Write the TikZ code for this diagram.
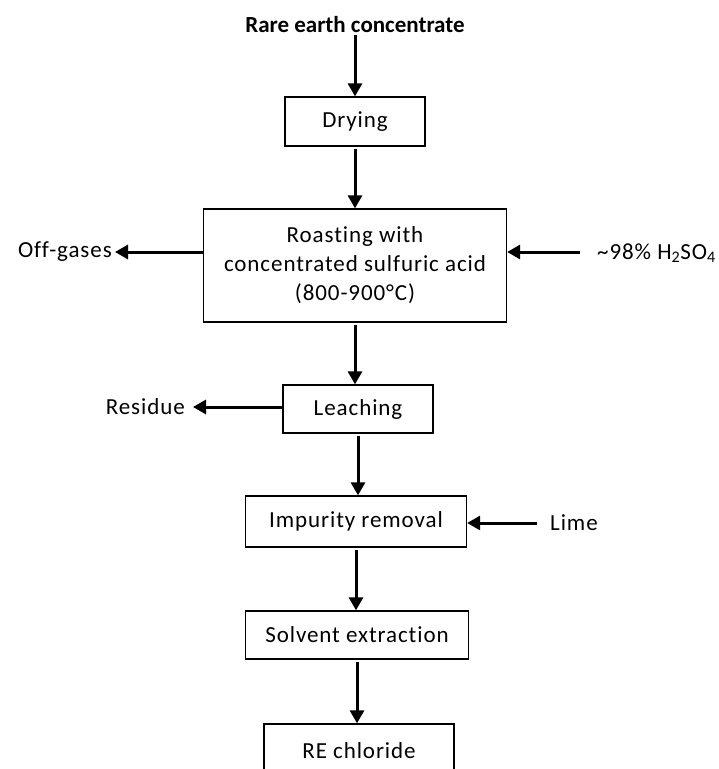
\documentclass[tikz,border=0pt]{standalone}
\usepackage{fontspec}
\setmainfont{Carlito}[Ligatures=CommonOff]
\usetikzlibrary{arrows.meta}
\tikzset{
  stepbox/.style={draw,line width=1.3pt,minimum height=#1,inner sep=0pt,align=center},
  flow/.style={line width=3pt,-{Triangle[length=13pt,width=14pt]}},
  side/.style={inner sep=0pt}
}
\begin{document}
\begin{tikzpicture}[x=1pt,y=-1pt,font=\fontsize{23}{29}\selectfont\addfontfeature{LetterSpace=4}]
\clip(0,0)rectangle(719,769);
\node[side,font=\fontsize{23}{29}\selectfont\bfseries](title)at(355,25){Rare earth concentrate};
\node[stepbox=49pt,minimum width=140pt](dry)at(355,121.5){Drying};
\node[stepbox=113pt,minimum width=303pt](roast)at(355,265.5){Roasting with\\concentrated sulfuric acid\\(800-900°C)};
\node[stepbox=48pt,minimum width=150pt](leach)at(358,409){Leaching};
\node[stepbox=51pt,minimum width=221pt](imp)at(356,521.5){Impurity removal};
\node[stepbox=48pt,minimum width=223pt](solv)at(357,635){Solvent extraction};
\node[stepbox=54pt,minimum width=190pt](recl)at(359,751){RE chloride};
\foreach \a/\b in {title/dry,dry/roast,roast/leach,leach/imp,imp/solv,solv/recl}
  \draw[flow]([yshift=-2pt]\a.south)--(\a.south|-\b.north);
\node[side,anchor=east](offg)at(112,252){Off-gases};
\draw[flow](roast.west|-offg.east)--([xshift=3pt]offg.east);
\node[side,anchor=base west](acid)at(597,259){\textasciitilde 98\% H\textsubscript{2}SO\textsubscript{4}};
\coordinate(acidin)at(580,252);
\draw[flow](acidin)--(roast.east|-acidin);
\node[side,anchor=east](resid)at(185,407){Residue};
\draw[flow](leach.west|-resid.east)--([xshift=8pt]resid.east);
\node[side,anchor=west](lime)at(550,523){Lime};
\draw[flow]([xshift=-13pt]lime.west)--(imp.east|-lime.west);
\end{tikzpicture}
\end{document}
